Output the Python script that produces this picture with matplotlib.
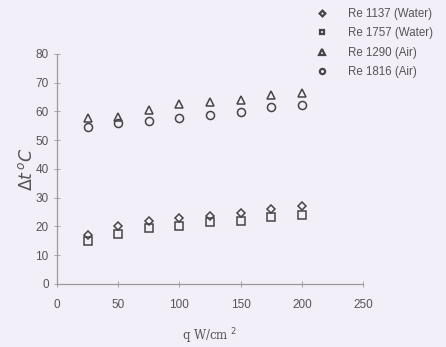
import matplotlib as mpl

mpl.use("Agg")
import matplotlib.pyplot as plt

heat_flux = [25, 50, 75, 100, 125, 150, 175, 200]

re1137_water = [17.0, 20.0, 22.0, 23.0, 23.7, 24.7, 26.0, 27.0]
re1757_water = [14.8, 17.2, 19.5, 20.0, 21.4, 21.8, 23.2, 23.9]
re1290_air = [57.5, 58.0, 60.3, 62.5, 63.2, 64.0, 65.6, 66.3]
re1816_air = [54.7, 55.9, 56.5, 57.8, 58.8, 59.8, 61.5, 62.2]

series = [
    ("Re 1137 (Water)", re1137_water, "D", 4.5),
    ("Re 1757 (Water)", re1757_water, "s", 5.5),
    ("Re 1290 (Air)", re1290_air, "^", 5.8),
    ("Re 1816 (Air)", re1816_air, "o", 5.8),
]

bg = "#f3eff9"
edge = "#454545"
grey = "#555555"

fig = plt.figure(figsize=(4.46, 3.47), dpi=100, facecolor=bg)
ax = fig.add_axes([0.128, 0.182, 0.686, 0.663], facecolor=bg)

for label, vals, marker, size in series:
    ax.plot(heat_flux, vals, linestyle="none", marker=marker, markersize=size,
            markerfacecolor="none", markeredgecolor=edge, markeredgewidth=1.1,
            label=label)

ax.set_xlim(0, 250)
ax.set_ylim(0, 80)
ax.set_xticks(range(0, 251, 50))
ax.set_yticks(range(0, 81, 10))
for side in ("top", "right"):
    ax.spines[side].set_visible(False)
for side in ("left", "bottom"):
    ax.spines[side].set_color("#9a9a9a")
    ax.spines[side].set_linewidth(0.9)
ax.tick_params(direction="inout", length=4, width=0.6, colors="#9a9a9a",
               labelcolor=grey, labelsize=8.5)
for lab in ax.get_xticklabels() + ax.get_yticklabels():
    lab.set_family("Liberation Sans")
ax.tick_params(axis="x", pad=9)
ax.tick_params(axis="y", pad=4)

ax.set_xlabel("q W/cm $^2$", family="DejaVu Serif", fontsize=8.5, color=grey,
              labelpad=11)
ax.set_ylabel(r"$\Delta t\,^o C$", fontsize=12.5, color=grey, labelpad=0)

leg = fig.legend(loc="upper left", bbox_to_anchor=(0.672, 1.006), frameon=False,
                 markerscale=0.65, handlelength=2.0, handletextpad=1.3,
                 labelspacing=0.62, labelcolor=grey,
                 prop={"family": "Liberation Sans", "size": 8.3})
for h in leg.legend_handles:
    h.set_markeredgewidth(1.6)

fig.savefig("out.png", dpi=100, facecolor=bg)
